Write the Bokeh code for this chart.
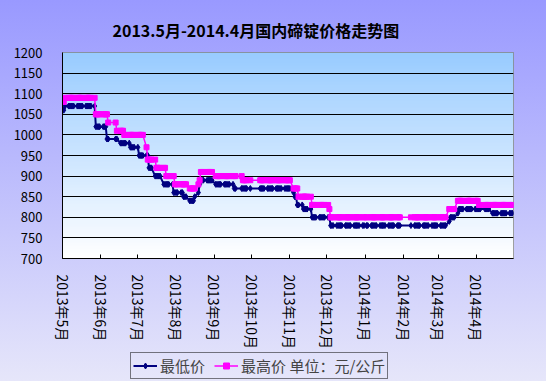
import numpy as np
import pandas as pd
from bokeh.plotting import figure
from bokeh.models import FixedTicker, Legend, LegendItem, ColumnDataSource, Range1d
from bokeh.embed import file_html
from bokeh.resources import INLINE

# ---------------- data ----------------
title_text = "2013.5月-2014.4月国内碲锭价格走势图"
month_starts = ["2013-05-01", "2013-06-01", "2013-07-01", "2013-08-01", "2013-09-01",
                "2013-10-01", "2013-11-01", "2013-12-01", "2014-01-01", "2014-02-01",
                "2014-03-01", "2014-04-01"]
month_labels = ["2013年5月", "2013年6月", "2013年7月", "2013年8月", "2013年9月",
                "2013年10月", "2013年11月", "2013年12月", "2014年1月", "2014年2月",
                "2014年3月", "2014年4月"]
y_ticks = [700, 750, 800, 850, 900, 950, 1000, 1050, 1100, 1150, 1200]
series_names = ["最低价", "最高价 单位：元/公斤"]

# price steps: each value holds from its start date until the next start date
low_starts = ["2013-05-02", "2013-05-03", "2013-05-28", "2013-06-06", "2013-06-17",
              "2013-06-25", "2013-07-02", "2013-07-10", "2013-07-15", "2013-07-22",
              "2013-07-30", "2013-08-07", "2013-08-12", "2013-08-16", "2013-08-19",
              "2013-08-20", "2013-08-21", "2013-09-02", "2013-09-17", "2013-11-04",
              "2013-11-05", "2013-11-07", "2013-11-12", "2013-11-19", "2013-12-04",
              "2014-03-10", "2014-03-11", "2014-03-17", "2014-03-18", "2014-04-14"]
low_values = [1060, 1070, 1020, 990, 980,
              970, 950, 920, 900, 880,
              860, 850, 840, 850, 860,
              880, 890, 880, 870, 860,
              850, 830, 820, 800, 780,
              790, 800, 810, 820, 810]

high_starts = ["2013-05-02", "2013-05-03", "2013-05-28", "2013-06-07", "2013-06-14",
               "2013-06-20", "2013-07-08", "2013-07-09", "2013-07-16", "2013-07-24",
               "2013-07-31", "2013-08-12", "2013-08-19", "2013-08-20", "2013-08-21",
               "2013-09-02", "2013-09-24", "2013-11-04", "2013-11-08", "2013-11-19",
               "2013-12-03", "2013-12-04", "2014-03-10", "2014-03-17", "2014-04-03"]
high_values = [1080, 1090, 1050, 1030, 1010,
               1000, 970, 940, 920, 900,
               880, 870, 880, 890, 910,
               900, 890, 870, 850, 830,
               820, 800, 820, 840, 830]

last_day = "2014-04-30"
holiday_ranges = [("2013-06-10", "2013-06-12"), ("2013-09-19", "2013-09-20"),
                  ("2013-10-01", "2013-10-07"), ("2014-01-01", "2014-01-01"),
                  ("2014-01-30", "2014-02-06"), ("2014-04-07", "2014-04-07")]

x_start, x_end = "2013-05-01", "2014-05-01"

LOW_COLOR, HIGH_COLOR = "#000080", "#FF00FF"
FONT = "Noto Sans CJK SC"


def to_ms(s):
    return pd.Timestamp(s).value / 1e6


holidays = set()
for a, b in holiday_ranges:
    for d in pd.date_range(a, b):
        holidays.add(d)


def expand(starts, values):
    days = [d for d in pd.bdate_range(starts[0], last_day) if d not in holidays]
    s = pd.Series(values, index=pd.to_datetime(starts))
    s = s.reindex(s.index.union(pd.DatetimeIndex(days))).ffill()
    s = s.loc[pd.DatetimeIndex(days)]
    return ColumnDataSource(dict(x=list(s.index), y=list(s.values)))


src_low = expand(low_starts, low_values)
src_high = expand(high_starts, high_values)

p = figure(frame_width=451, frame_height=206, x_axis_type="datetime",
           x_range=(to_ms(x_start), to_ms(x_end)), y_range=(700, 1200),
           output_backend="svg", toolbar_location=None,
           min_border_left=62, min_border_right=33, min_border_top=52, min_border_bottom=123)
p.styles = {"position": "fixed", "left": "0px", "top": "0px",
            "background": "linear-gradient(to bottom, #9999FF 0%, #E6E6FA 100%)"}
p.border_fill_color = None
p.background_fill_color = None
p.outline_line_color = "#808080"
p.outline_line_width = 1

# plot-area gradient (light blue top -> white bottom)
H = 64
img = np.empty((H, 2), dtype=np.uint32)
view = img.view(dtype=np.uint8).reshape((H, 2, 4))
t = np.linspace(0, 1, H)[:, None]  # 0 bottom -> 1 top
view[:, :, 0] = (255 - (255 - 153) * t).astype(np.uint8)
view[:, :, 1] = (255 - (255 - 204) * t).astype(np.uint8)
view[:, :, 2] = 255
view[:, :, 3] = 255
bg = p.image_rgba(image=[img], x=to_ms(x_start), y=700,
                  dw=to_ms(x_end) - to_ms(x_start), dh=500)
bg.level = "image"

# title
p.title.text = title_text
p.title.align = "left"
p.title.offset = 50
p.title.text_font = FONT
p.title.text_font_size = "16px"
p.title.text_font_style = "bold"
p.title.text_color = "black"
p.title.standoff = 21

# axes
p.yaxis.ticker = FixedTicker(ticks=y_ticks)
p.yaxis.major_tick_line_color = None
p.yaxis.minor_tick_line_color = None
p.yaxis.axis_line_color = "black"
p.yaxis.major_label_text_font = FONT
p.yaxis.major_label_text_font_size = "13px"
p.yaxis.major_label_text_color = "black"
p.yaxis.major_label_standoff = 14

x_ticks = [to_ms(m) for m in month_starts]
p.xaxis.ticker = FixedTicker(ticks=x_ticks)
p.xaxis.major_label_overrides = {tk: lb for tk, lb in zip(x_ticks, month_labels)}
p.xaxis.major_label_orientation = -np.pi / 2
p.xaxis.major_tick_in = 4
p.xaxis.major_tick_out = 0
p.xaxis.major_tick_line_color = "black"
p.xaxis.minor_tick_line_color = None
p.xaxis.axis_line_color = "black"
p.xaxis.major_label_text_font = FONT
p.xaxis.major_label_text_font_size = "14px"
p.xaxis.major_label_text_color = "black"
p.xaxis.major_label_standoff = 16

p.xgrid.visible = False
p.ygrid.ticker = FixedTicker(ticks=y_ticks[1:-1])
p.ygrid.grid_line_color = "black"
p.ygrid.grid_line_width = 1

# series
p.line("x", "y", source=src_low, line_color=LOW_COLOR, line_width=2)
p.scatter("x", "y", source=src_low, marker="diamond", size=6,
          fill_color=LOW_COLOR, line_color=LOW_COLOR)
p.line("x", "y", source=src_high, line_color=HIGH_COLOR, line_width=1.5)
p.scatter("x", "y", source=src_high, marker="square", size=5,
          fill_color=HIGH_COLOR, line_color=HIGH_COLOR)

# legend box: a separate small root laid over the bottom of the chart
lg = figure(width=292, height=27, output_backend="svg", toolbar_location=None,
            x_range=Range1d(0, 1), y_range=Range1d(0, 1),
            x_axis_type=None, y_axis_type=None, min_border=0)
lg.styles = {"position": "fixed", "left": "130px", "top": "352px"}
lg.border_fill_color = None
lg.background_fill_color = None
lg.outline_line_color = None
lg.grid.visible = False
hidden = dict(x=[-5], y=[-5])  # off-range: only the legend swatches show
l1 = lg.line("x", "y", source=ColumnDataSource(hidden), line_color=LOW_COLOR, line_width=2)
l2 = lg.scatter("x", "y", source=ColumnDataSource(hidden), marker="diamond", size=6,
                fill_color=LOW_COLOR, line_color=LOW_COLOR)
l3 = lg.line("x", "y", source=ColumnDataSource(hidden), line_color=HIGH_COLOR, line_width=1.5)
l4 = lg.scatter("x", "y", source=ColumnDataSource(hidden), marker="square", size=5,
                fill_color=HIGH_COLOR, line_color=HIGH_COLOR)
legend = Legend(items=[LegendItem(label=series_names[0], renderers=[l1, l2]),
                       LegendItem(label=series_names[1], renderers=[l3, l4])],
                orientation="horizontal", location="top_left",
                border_line_color="black", border_line_width=1,
                background_fill_alpha=0,
                label_text_font=FONT, label_text_font_size="15px",
                glyph_width=24, glyph_height=15, label_height=15, label_standoff=3,
                spacing=9, padding=2, margin=0)
lg.add_layout(legend)

open("out.html", "w").write(file_html([p, lg], INLINE))
